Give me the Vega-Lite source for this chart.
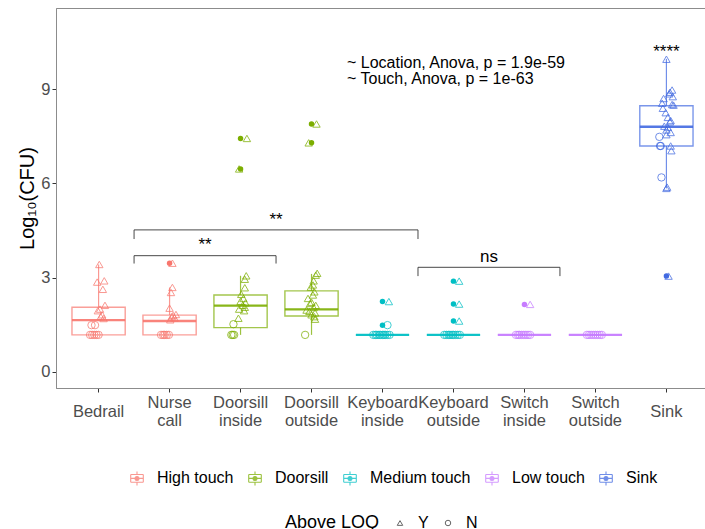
{
  "$schema": "https://vega.github.io/schema/vega-lite/v6.json",
  "width": 653,
  "height": 380,
  "autosize": {"type": "none"},
  "padding": {"left": 56, "top": 8, "right": -4, "bottom": 141},
  "background": "white",
  "config": {
    "font": "Liberation Sans",
    "view": {"stroke": "#8c8c8c", "strokeWidth": 1},
    "axis": {"grid": false}
  },
  "resolve": {"scale": {"xOffset": "independent"}},
  "datasets": {
    "boxes": [
      {"loc": "Bedrail", "grp": "High touch", "lo": 1.18, "q1": 1.18, "med": 1.65, "q3": 2.06, "hi": 3.42},
      {"loc": "Nurse call", "grp": "High touch", "lo": 1.18, "q1": 1.18, "med": 1.62, "q3": 1.81, "hi": 2.69},
      {"loc": "Doorsill inside", "grp": "Doorsill", "lo": 1.18, "q1": 1.41, "med": 2.11, "q3": 2.45, "hi": 3.06},
      {"loc": "Doorsill outside", "grp": "Doorsill", "lo": 1.18, "q1": 1.78, "med": 1.99, "q3": 2.58, "hi": 3.12},
      {"loc": "Keyboard inside", "grp": "Medium touch", "lo": 1.18, "q1": 1.18, "med": 1.18, "q3": 1.18, "hi": 1.18},
      {"loc": "Keyboard outside", "grp": "Medium touch", "lo": 1.18, "q1": 1.18, "med": 1.18, "q3": 1.18, "hi": 1.18},
      {"loc": "Switch inside", "grp": "Low touch", "lo": 1.18, "q1": 1.18, "med": 1.18, "q3": 1.18, "hi": 1.18},
      {"loc": "Switch outside", "grp": "Low touch", "lo": 1.18, "q1": 1.18, "med": 1.18, "q3": 1.18, "hi": 1.18},
      {"loc": "Sink", "grp": "Sink", "lo": 5.84, "q1": 7.19, "med": 7.8, "q3": 8.47, "hi": 9.96}
    ],
    "outliers": [
      {"loc": "Nurse call", "grp": "High touch", "cfu": 3.46},
      {"loc": "Doorsill inside", "grp": "Doorsill", "cfu": 7.43},
      {"loc": "Doorsill inside", "grp": "Doorsill", "cfu": 6.46},
      {"loc": "Doorsill outside", "grp": "Doorsill", "cfu": 7.89},
      {"loc": "Doorsill outside", "grp": "Doorsill", "cfu": 7.29},
      {"loc": "Keyboard inside", "grp": "Medium touch", "cfu": 2.24},
      {"loc": "Keyboard inside", "grp": "Medium touch", "cfu": 1.49},
      {"loc": "Keyboard outside", "grp": "Medium touch", "cfu": 2.89},
      {"loc": "Keyboard outside", "grp": "Medium touch", "cfu": 2.16},
      {"loc": "Keyboard outside", "grp": "Medium touch", "cfu": 1.62},
      {"loc": "Switch inside", "grp": "Low touch", "cfu": 2.15},
      {"loc": "Sink", "grp": "Sink", "cfu": 3.05}
    ],
    "samples": [
      {"loc": "Bedrail", "grp": "High touch", "cfu": 3.42, "loq": "Y", "dx": 0.01},
      {"loc": "Bedrail", "grp": "High touch", "cfu": 2.86, "loq": "Y", "dx": -0.02},
      {"loc": "Bedrail", "grp": "High touch", "cfu": 2.9, "loq": "Y", "dx": 0.08},
      {"loc": "Bedrail", "grp": "High touch", "cfu": 2.63, "loq": "Y", "dx": 0.06},
      {"loc": "Bedrail", "grp": "High touch", "cfu": 2.12, "loq": "Y", "dx": 0.09},
      {"loc": "Bedrail", "grp": "High touch", "cfu": 2.0, "loq": "Y", "dx": 0.02},
      {"loc": "Bedrail", "grp": "High touch", "cfu": 1.95, "loq": "Y", "dx": -0.01},
      {"loc": "Bedrail", "grp": "High touch", "cfu": 1.82, "loq": "Y", "dx": 0.05},
      {"loc": "Bedrail", "grp": "High touch", "cfu": 1.76, "loq": "Y", "dx": 0.03},
      {"loc": "Bedrail", "grp": "High touch", "cfu": 1.7, "loq": "Y", "dx": 0.07},
      {"loc": "Bedrail", "grp": "High touch", "cfu": 1.49, "loq": "N", "dx": -0.1},
      {"loc": "Bedrail", "grp": "High touch", "cfu": 1.49, "loq": "N", "dx": -0.05},
      {"loc": "Bedrail", "grp": "High touch", "cfu": 1.18, "loq": "N", "dx": -0.12},
      {"loc": "Bedrail", "grp": "High touch", "cfu": 1.18, "loq": "N", "dx": -0.09},
      {"loc": "Bedrail", "grp": "High touch", "cfu": 1.18, "loq": "N", "dx": -0.06},
      {"loc": "Bedrail", "grp": "High touch", "cfu": 1.18, "loq": "N", "dx": -0.03},
      {"loc": "Bedrail", "grp": "High touch", "cfu": 1.18, "loq": "N", "dx": 0.0},

      {"loc": "Nurse call", "grp": "High touch", "cfu": 3.46, "loq": "Y", "dx": 0.04},
      {"loc": "Nurse call", "grp": "High touch", "cfu": 2.69, "loq": "Y", "dx": 0.04},
      {"loc": "Nurse call", "grp": "High touch", "cfu": 2.53, "loq": "Y", "dx": 0.02},
      {"loc": "Nurse call", "grp": "High touch", "cfu": 2.03, "loq": "Y", "dx": 0.0},
      {"loc": "Nurse call", "grp": "High touch", "cfu": 1.83, "loq": "Y", "dx": 0.09},
      {"loc": "Nurse call", "grp": "High touch", "cfu": 1.8, "loq": "Y", "dx": 0.05},
      {"loc": "Nurse call", "grp": "High touch", "cfu": 1.76, "loq": "Y", "dx": 0.03},
      {"loc": "Nurse call", "grp": "High touch", "cfu": 1.72, "loq": "Y", "dx": 0.07},
      {"loc": "Nurse call", "grp": "High touch", "cfu": 1.66, "loq": "Y", "dx": 0.01},
      {"loc": "Nurse call", "grp": "High touch", "cfu": 1.18, "loq": "N", "dx": -0.12},
      {"loc": "Nurse call", "grp": "High touch", "cfu": 1.18, "loq": "N", "dx": -0.09},
      {"loc": "Nurse call", "grp": "High touch", "cfu": 1.18, "loq": "N", "dx": -0.07},
      {"loc": "Nurse call", "grp": "High touch", "cfu": 1.18, "loq": "N", "dx": -0.04},
      {"loc": "Nurse call", "grp": "High touch", "cfu": 1.18, "loq": "N", "dx": -0.01},

      {"loc": "Doorsill inside", "grp": "Doorsill", "cfu": 7.43, "loq": "Y", "dx": 0.09},
      {"loc": "Doorsill inside", "grp": "Doorsill", "cfu": 6.46, "loq": "Y", "dx": -0.02},
      {"loc": "Doorsill inside", "grp": "Doorsill", "cfu": 3.06, "loq": "Y", "dx": 0.08},
      {"loc": "Doorsill inside", "grp": "Doorsill", "cfu": 2.95, "loq": "Y", "dx": 0.06},
      {"loc": "Doorsill inside", "grp": "Doorsill", "cfu": 2.68, "loq": "Y", "dx": 0.06},
      {"loc": "Doorsill inside", "grp": "Doorsill", "cfu": 2.47, "loq": "Y", "dx": 0.01},
      {"loc": "Doorsill inside", "grp": "Doorsill", "cfu": 2.34, "loq": "Y", "dx": 0.04},
      {"loc": "Doorsill inside", "grp": "Doorsill", "cfu": 2.25, "loq": "Y", "dx": 0.0},
      {"loc": "Doorsill inside", "grp": "Doorsill", "cfu": 2.2, "loq": "Y", "dx": 0.07},
      {"loc": "Doorsill inside", "grp": "Doorsill", "cfu": 2.12, "loq": "Y", "dx": 0.03},
      {"loc": "Doorsill inside", "grp": "Doorsill", "cfu": 2.06, "loq": "Y", "dx": 0.06},
      {"loc": "Doorsill inside", "grp": "Doorsill", "cfu": 2.0, "loq": "Y", "dx": -0.02},
      {"loc": "Doorsill inside", "grp": "Doorsill", "cfu": 1.95, "loq": "Y", "dx": 0.05},
      {"loc": "Doorsill inside", "grp": "Doorsill", "cfu": 1.71, "loq": "Y", "dx": -0.03},
      {"loc": "Doorsill inside", "grp": "Doorsill", "cfu": 1.52, "loq": "N", "dx": -0.1},
      {"loc": "Doorsill inside", "grp": "Doorsill", "cfu": 1.18, "loq": "N", "dx": -0.13},
      {"loc": "Doorsill inside", "grp": "Doorsill", "cfu": 1.18, "loq": "N", "dx": -0.11},
      {"loc": "Doorsill inside", "grp": "Doorsill", "cfu": 1.18, "loq": "N", "dx": -0.09},

      {"loc": "Doorsill outside", "grp": "Doorsill", "cfu": 7.89, "loq": "Y", "dx": 0.07},
      {"loc": "Doorsill outside", "grp": "Doorsill", "cfu": 7.29, "loq": "Y", "dx": -0.04},
      {"loc": "Doorsill outside", "grp": "Doorsill", "cfu": 3.14, "loq": "Y", "dx": 0.08},
      {"loc": "Doorsill outside", "grp": "Doorsill", "cfu": 3.08, "loq": "Y", "dx": 0.06},
      {"loc": "Doorsill outside", "grp": "Doorsill", "cfu": 2.9, "loq": "Y", "dx": 0.03},
      {"loc": "Doorsill outside", "grp": "Doorsill", "cfu": 2.77, "loq": "Y", "dx": 0.02},
      {"loc": "Doorsill outside", "grp": "Doorsill", "cfu": 2.7, "loq": "Y", "dx": -0.01},
      {"loc": "Doorsill outside", "grp": "Doorsill", "cfu": 2.55, "loq": "Y", "dx": 0.04},
      {"loc": "Doorsill outside", "grp": "Doorsill", "cfu": 2.45, "loq": "Y", "dx": 0.02},
      {"loc": "Doorsill outside", "grp": "Doorsill", "cfu": 2.34, "loq": "Y", "dx": -0.05},
      {"loc": "Doorsill outside", "grp": "Doorsill", "cfu": 2.22, "loq": "Y", "dx": 0.0},
      {"loc": "Doorsill outside", "grp": "Doorsill", "cfu": 2.18, "loq": "Y", "dx": -0.02},
      {"loc": "Doorsill outside", "grp": "Doorsill", "cfu": 2.12, "loq": "Y", "dx": 0.06},
      {"loc": "Doorsill outside", "grp": "Doorsill", "cfu": 2.05, "loq": "Y", "dx": 0.03},
      {"loc": "Doorsill outside", "grp": "Doorsill", "cfu": 1.97, "loq": "Y", "dx": -0.07},
      {"loc": "Doorsill outside", "grp": "Doorsill", "cfu": 1.93, "loq": "Y", "dx": -0.03},
      {"loc": "Doorsill outside", "grp": "Doorsill", "cfu": 1.88, "loq": "Y", "dx": 0.05},
      {"loc": "Doorsill outside", "grp": "Doorsill", "cfu": 1.82, "loq": "Y", "dx": 0.0},
      {"loc": "Doorsill outside", "grp": "Doorsill", "cfu": 1.76, "loq": "Y", "dx": 0.04},
      {"loc": "Doorsill outside", "grp": "Doorsill", "cfu": 1.68, "loq": "Y", "dx": 0.05},
      {"loc": "Doorsill outside", "grp": "Doorsill", "cfu": 1.18, "loq": "N", "dx": -0.09},

      {"loc": "Keyboard inside", "grp": "Medium touch", "cfu": 2.24, "loq": "Y", "dx": 0.09},
      {"loc": "Keyboard inside", "grp": "Medium touch", "cfu": 1.49, "loq": "N", "dx": 0.07},
      {"loc": "Keyboard inside", "grp": "Medium touch", "cfu": 1.18, "loq": "N", "dx": -0.13},
      {"loc": "Keyboard inside", "grp": "Medium touch", "cfu": 1.18, "loq": "N", "dx": -0.1},
      {"loc": "Keyboard inside", "grp": "Medium touch", "cfu": 1.18, "loq": "N", "dx": -0.08},
      {"loc": "Keyboard inside", "grp": "Medium touch", "cfu": 1.18, "loq": "N", "dx": -0.05},
      {"loc": "Keyboard inside", "grp": "Medium touch", "cfu": 1.18, "loq": "N", "dx": -0.03},
      {"loc": "Keyboard inside", "grp": "Medium touch", "cfu": 1.18, "loq": "N", "dx": 0.0},
      {"loc": "Keyboard inside", "grp": "Medium touch", "cfu": 1.18, "loq": "N", "dx": 0.02},
      {"loc": "Keyboard inside", "grp": "Medium touch", "cfu": 1.18, "loq": "N", "dx": 0.04},
      {"loc": "Keyboard inside", "grp": "Medium touch", "cfu": 1.18, "loq": "N", "dx": 0.07},
      {"loc": "Keyboard inside", "grp": "Medium touch", "cfu": 1.18, "loq": "N", "dx": 0.1},

      {"loc": "Keyboard outside", "grp": "Medium touch", "cfu": 2.89, "loq": "Y", "dx": 0.08},
      {"loc": "Keyboard outside", "grp": "Medium touch", "cfu": 2.16, "loq": "Y", "dx": 0.08},
      {"loc": "Keyboard outside", "grp": "Medium touch", "cfu": 1.62, "loq": "Y", "dx": 0.08},
      {"loc": "Keyboard outside", "grp": "Medium touch", "cfu": 1.18, "loq": "N", "dx": -0.13},
      {"loc": "Keyboard outside", "grp": "Medium touch", "cfu": 1.18, "loq": "N", "dx": -0.1},
      {"loc": "Keyboard outside", "grp": "Medium touch", "cfu": 1.18, "loq": "N", "dx": -0.07},
      {"loc": "Keyboard outside", "grp": "Medium touch", "cfu": 1.18, "loq": "N", "dx": -0.05},
      {"loc": "Keyboard outside", "grp": "Medium touch", "cfu": 1.18, "loq": "N", "dx": -0.02},
      {"loc": "Keyboard outside", "grp": "Medium touch", "cfu": 1.18, "loq": "N", "dx": 0.0},
      {"loc": "Keyboard outside", "grp": "Medium touch", "cfu": 1.18, "loq": "N", "dx": 0.03},
      {"loc": "Keyboard outside", "grp": "Medium touch", "cfu": 1.18, "loq": "N", "dx": 0.06},
      {"loc": "Keyboard outside", "grp": "Medium touch", "cfu": 1.18, "loq": "N", "dx": 0.09},

      {"loc": "Switch inside", "grp": "Low touch", "cfu": 2.15, "loq": "Y", "dx": 0.08},
      {"loc": "Switch inside", "grp": "Low touch", "cfu": 1.18, "loq": "N", "dx": -0.12},
      {"loc": "Switch inside", "grp": "Low touch", "cfu": 1.18, "loq": "N", "dx": -0.09},
      {"loc": "Switch inside", "grp": "Low touch", "cfu": 1.18, "loq": "N", "dx": -0.07},
      {"loc": "Switch inside", "grp": "Low touch", "cfu": 1.18, "loq": "N", "dx": -0.04},
      {"loc": "Switch inside", "grp": "Low touch", "cfu": 1.18, "loq": "N", "dx": -0.01},
      {"loc": "Switch inside", "grp": "Low touch", "cfu": 1.18, "loq": "N", "dx": 0.02},
      {"loc": "Switch inside", "grp": "Low touch", "cfu": 1.18, "loq": "N", "dx": 0.05},
      {"loc": "Switch inside", "grp": "Low touch", "cfu": 1.18, "loq": "N", "dx": 0.08},

      {"loc": "Switch outside", "grp": "Low touch", "cfu": 1.18, "loq": "N", "dx": -0.12},
      {"loc": "Switch outside", "grp": "Low touch", "cfu": 1.18, "loq": "N", "dx": -0.09},
      {"loc": "Switch outside", "grp": "Low touch", "cfu": 1.18, "loq": "N", "dx": -0.06},
      {"loc": "Switch outside", "grp": "Low touch", "cfu": 1.18, "loq": "N", "dx": -0.03},
      {"loc": "Switch outside", "grp": "Low touch", "cfu": 1.18, "loq": "N", "dx": 0.0},
      {"loc": "Switch outside", "grp": "Low touch", "cfu": 1.18, "loq": "N", "dx": 0.03},
      {"loc": "Switch outside", "grp": "Low touch", "cfu": 1.18, "loq": "N", "dx": 0.06},
      {"loc": "Switch outside", "grp": "Low touch", "cfu": 1.18, "loq": "N", "dx": 0.09},

      {"loc": "Sink", "grp": "Sink", "cfu": 9.95, "loq": "Y", "dx": 0.0},
      {"loc": "Sink", "grp": "Sink", "cfu": 8.97, "loq": "Y", "dx": 0.08},
      {"loc": "Sink", "grp": "Sink", "cfu": 8.9, "loq": "Y", "dx": 0.05},
      {"loc": "Sink", "grp": "Sink", "cfu": 8.85, "loq": "Y", "dx": 0.04},
      {"loc": "Sink", "grp": "Sink", "cfu": 8.76, "loq": "Y", "dx": 0.09},
      {"loc": "Sink", "grp": "Sink", "cfu": 8.7, "loq": "Y", "dx": -0.04},
      {"loc": "Sink", "grp": "Sink", "cfu": 8.55, "loq": "Y", "dx": -0.06},
      {"loc": "Sink", "grp": "Sink", "cfu": 8.51, "loq": "Y", "dx": 0.08},
      {"loc": "Sink", "grp": "Sink", "cfu": 8.49, "loq": "Y", "dx": 0.1},
      {"loc": "Sink", "grp": "Sink", "cfu": 8.39, "loq": "Y", "dx": -0.05},
      {"loc": "Sink", "grp": "Sink", "cfu": 8.25, "loq": "Y", "dx": -0.01},
      {"loc": "Sink", "grp": "Sink", "cfu": 8.1, "loq": "Y", "dx": 0.02},
      {"loc": "Sink", "grp": "Sink", "cfu": 8.0, "loq": "Y", "dx": 0.06},
      {"loc": "Sink", "grp": "Sink", "cfu": 7.96, "loq": "Y", "dx": 0.05},
      {"loc": "Sink", "grp": "Sink", "cfu": 7.82, "loq": "Y", "dx": -0.03},
      {"loc": "Sink", "grp": "Sink", "cfu": 7.78, "loq": "Y", "dx": 0.02},
      {"loc": "Sink", "grp": "Sink", "cfu": 7.7, "loq": "Y", "dx": 0.0},
      {"loc": "Sink", "grp": "Sink", "cfu": 7.62, "loq": "Y", "dx": 0.06},
      {"loc": "Sink", "grp": "Sink", "cfu": 7.55, "loq": "Y", "dx": 0.0},
      {"loc": "Sink", "grp": "Sink", "cfu": 7.19, "loq": "Y", "dx": 0.06},
      {"loc": "Sink", "grp": "Sink", "cfu": 7.04, "loq": "Y", "dx": 0.07},
      {"loc": "Sink", "grp": "Sink", "cfu": 5.88, "loq": "Y", "dx": 0.01},
      {"loc": "Sink", "grp": "Sink", "cfu": 5.84, "loq": "Y", "dx": 0.0},
      {"loc": "Sink", "grp": "Sink", "cfu": 3.05, "loq": "Y", "dx": 0.03},
      {"loc": "Sink", "grp": "Sink", "cfu": 7.48, "loq": "N", "dx": -0.1},
      {"loc": "Sink", "grp": "Sink", "cfu": 7.19, "loq": "N", "dx": -0.09},
      {"loc": "Sink", "grp": "Sink", "cfu": 7.19, "loq": "N", "dx": -0.08},
      {"loc": "Sink", "grp": "Sink", "cfu": 6.19, "loq": "N", "dx": -0.07}
    ],
    "brackets": [
      {"from": "Bedrail", "to": "Doorsill inside", "mid": "Nurse call", "bar": 3.7, "foot": 3.45, "label": "**", "ly": 3.89},
      {"from": "Bedrail", "to": "Keyboard inside", "mid": "Doorsill inside", "bar": 4.52, "foot": 4.23, "label": "**", "ly": 4.69},
      {"from": "Keyboard inside", "to": "Switch inside", "mid": "Keyboard outside", "bar": 3.33, "foot": 3.05, "label": "ns", "ly": 3.49}
    ],
    "stars": [
      {"loc": "Sink", "label": "****", "ly": 10.03}
    ],
    "notes": [
      {"at": "Keyboard inside", "line": "~ Location, Anova, p = 1.9e-59", "ly": 9.82},
      {"at": "Keyboard inside", "line": "~ Touch, Anova, p = 1e-63", "ly": 9.31}
    ]
  },
  "layer": [
    {
      "data": {"name": "boxes"},
      "mark": {"type": "rule", "strokeWidth": 1.2, "opacity": 0.75},
      "encoding": {
        "x": {
          "field": "loc", "type": "nominal",
          "scale": {
            "domain": ["Bedrail", "Nurse call", "Doorsill inside", "Doorsill outside", "Keyboard inside", "Keyboard outside", "Switch inside", "Switch outside", "Sink"],
            "paddingInner": 0, "paddingOuter": 0.1
          },
          "axis": {
            "title": null, "labelAngle": 0,
            "labelExpr": "split(datum.label, ' ')",
            "labelFontSize": 16.5, "labelColor": "#4d4d4d", "labelLineHeight": 18.5,
            "labelBaseline": "middle",
            "labelPadding": {"condition": {"test": "indexof(datum.label, ' ') >= 0", "value": 10}, "value": 19},
            "tickSize": 4, "tickColor": "#333333", "domainColor": "#8c8c8c"
          }
        },
        "y": {
          "field": "lo", "type": "quantitative",
          "scale": {"domain": [-0.51, 11.58], "nice": false, "zero": false},
          "axis": {
            "title": "Log₁₀(CFU)", "values": [0, 3, 6, 9],
            "titleFontSize": 20, "titleFontWeight": "normal", "titleColor": "black",
            "titleAngle": -90, "titleX": -29, "titleY": 190, "titleAlign": "center", "titleBaseline": "middle",
            "labelFontSize": 16.5, "labelColor": "#4d4d4d", "labelPadding": 2,
            "tickSize": 4, "tickColor": "#333333", "domainColor": "#8c8c8c"
          }
        },
        "y2": {"field": "q1"},
        "color": {
          "field": "grp", "type": "nominal",
          "scale": {
            "domain": ["High touch", "Doorsill", "Medium touch", "Low touch", "Sink"],
            "range": ["#F8766D", "#7CAE00", "#00BFC4", "#C77CFF", "#4169E1"]
          },
          "legend": {
            "title": null, "orient": "none", "legendX": 73, "legendY": 462,
            "direction": "horizontal", "padding": 0,
            "symbolType": "M-0.9,-0.55H0.9 M0.9,-0.55V0.55 M0.9,0.55H-0.9 M-0.9,0.55V-0.55 M0,-1V-0.55 M0,0.55V1 M-0.9,0H0.9 M-0.28,0A0.28,0.28 0 1,0 0.28,0A0.28,0.28 0 1,0 -0.28,0",
            "symbolSize": 196, "symbolStrokeWidth": 1.1, "symbolOpacity": 1,
            "labelFontSize": 16, "labelColor": "black", "labelOffset": 12, "columnPadding": 12
          }
        }
      }
    },
    {
      "data": {"name": "boxes"},
      "mark": {"type": "rule", "strokeWidth": 1.2, "opacity": 0.75},
      "encoding": {
        "x": {"field": "loc", "type": "nominal"},
        "y": {"field": "q3", "type": "quantitative"},
        "y2": {"field": "hi"},
        "color": {"field": "grp", "type": "nominal"}
      }
    },
    {
      "data": {"name": "boxes"},
      "mark": {"type": "bar", "filled": false, "width": {"band": 0.75}, "strokeWidth": 1.4, "strokeOpacity": 0.7},
      "encoding": {
        "x": {"field": "loc", "type": "nominal"},
        "y": {"field": "q1", "type": "quantitative"},
        "y2": {"field": "q3"},
        "color": {"field": "grp", "type": "nominal"}
      }
    },
    {
      "data": {"name": "boxes"},
      "mark": {"type": "bar", "filled": false, "width": {"band": 0.75}, "strokeWidth": 2.4, "strokeOpacity": 0.9},
      "encoding": {
        "x": {"field": "loc", "type": "nominal"},
        "y": {"field": "med", "type": "quantitative"},
        "y2": {"field": "med"},
        "color": {"field": "grp", "type": "nominal"}
      }
    },
    {
      "data": {"name": "samples"},
      "mark": {"type": "point", "filled": false, "strokeWidth": 1, "opacity": 0.75},
      "encoding": {
        "x": {"field": "loc", "type": "nominal"},
        "xOffset": {"field": "dx", "type": "quantitative", "scale": {"domain": [-0.5, 0.5]}},
        "y": {"field": "cfu", "type": "quantitative"},
        "color": {"field": "grp", "type": "nominal"},
        "size": {"value": 55},
        "shape": {
          "field": "loq", "type": "nominal",
          "scale": {"domain": ["Y", "N"], "range": ["triangle-up", "circle"]},
          "legend": {
            "title": "Above LOQ", "orient": "none", "legendX": 229, "legendY": 507,
            "direction": "horizontal", "titleOrient": "left", "padding": 0,
            "titleFontSize": 18, "titleFontWeight": "normal", "titleColor": "black", "titlePadding": 12,
            "labelFontSize": 16, "labelColor": "black", "labelOffset": 10, "columnPadding": 11,
            "symbolSize": 30, "symbolStrokeWidth": 1, "symbolStrokeColor": "#333333", "symbolFillColor": "transparent"
          }
        }
      }
    },
    {
      "data": {"name": "outliers"},
      "mark": {"type": "point", "filled": true, "shape": "circle", "size": 30, "opacity": 1},
      "encoding": {
        "x": {"field": "loc", "type": "nominal"},
        "y": {"field": "cfu", "type": "quantitative"},
        "color": {"field": "grp", "type": "nominal", "legend": null}
      }
    },
    {
      "data": {"name": "brackets"},
      "mark": {"type": "rule", "color": "#333333", "strokeWidth": 0.9},
      "encoding": {
        "x": {"field": "from", "type": "nominal", "bandPosition": 1},
        "x2": {"field": "to", "bandPosition": 1},
        "y": {"field": "bar", "type": "quantitative"}
      }
    },
    {
      "data": {"name": "brackets"},
      "mark": {"type": "rule", "color": "#333333", "strokeWidth": 0.9},
      "encoding": {
        "x": {"field": "from", "type": "nominal", "bandPosition": 1},
        "y": {"field": "bar", "type": "quantitative"},
        "y2": {"field": "foot"}
      }
    },
    {
      "data": {"name": "brackets"},
      "mark": {"type": "rule", "color": "#333333", "strokeWidth": 0.9},
      "encoding": {
        "x": {"field": "to", "type": "nominal", "bandPosition": 1},
        "y": {"field": "bar", "type": "quantitative"},
        "y2": {"field": "foot"}
      }
    },
    {
      "data": {"name": "brackets"},
      "mark": {"type": "text", "fontSize": 17, "color": "black", "baseline": "alphabetic", "align": "center"},
      "encoding": {
        "x": {"field": "mid", "type": "nominal", "bandPosition": 1},
        "y": {"field": "ly", "type": "quantitative"},
        "text": {"field": "label"}
      }
    },
    {
      "data": {"name": "stars"},
      "mark": {"type": "text", "fontSize": 17, "color": "black", "baseline": "alphabetic", "align": "center"},
      "encoding": {
        "x": {"field": "loc", "type": "nominal"},
        "y": {"field": "ly", "type": "quantitative"},
        "text": {"field": "label"}
      }
    },
    {
      "data": {"name": "notes"},
      "mark": {"type": "text", "fontSize": 16, "color": "black", "baseline": "middle", "align": "left"},
      "encoding": {
        "x": {"field": "at", "type": "nominal", "bandPosition": 0},
        "y": {"field": "ly", "type": "quantitative"},
        "text": {"field": "line"}
      }
    }
  ]
}
